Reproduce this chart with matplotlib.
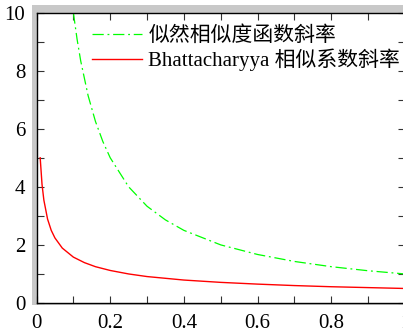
import matplotlib
matplotlib.use("Agg")
import matplotlib.pyplot as plt
from matplotlib.patches import Rectangle
from matplotlib.ticker import MultipleLocator

# Veri
x_yesil = [0.10, 0.11, 0.12, 0.14, 0.16, 0.18, 0.20, 0.25, 0.30, 0.35, 0.40, 0.50, 0.60, 0.70, 0.80, 0.90, 1.00]
y_yesil = [10.0, 9.09, 8.33, 7.14, 6.25, 5.56, 5.00, 4.00, 3.33, 2.86, 2.50, 2.00, 1.67, 1.43, 1.25, 1.11, 1.00]

x_kirmizi = [0.01, 0.015, 0.02, 0.03, 0.04, 0.05, 0.07, 0.10, 0.13, 0.16, 0.20, 0.25, 0.30, 0.40, 0.50, 0.60, 0.70, 0.80, 0.90, 1.00]
y_kirmizi = [5.00, 4.08, 3.54, 2.89, 2.50, 2.24, 1.89, 1.58, 1.39, 1.25, 1.12, 1.00, 0.91, 0.79, 0.71, 0.65, 0.60, 0.56, 0.53, 0.50]

x_etiketler = ["0", "0.2", "0.4", "0.6", "0.8", "1"]

etiket_yesil = "似然相似度函数斜率"
etiket_kirmizi = "Bhattacharyya 相似系数斜率"

FONTLAR = ["Liberation Serif", "Noto Sans CJK SC", "DejaVu Sans"]
plt.rcParams["font.family"] = FONTLAR

fig = plt.figure(figsize=(4.03, 3.34), dpi=100)
W, H = 403.0, 334.0

# Gri golge cerceve
golge = Rectangle((32 / W, (H - 305) / H), (410 - 32) / W, (305 - 5) / H,
                  transform=fig.transFigure, facecolor="#c8c8c8",
                  edgecolor="none", zorder=-5)
fig.add_artist(golge)

ax = fig.add_axes([36.5 / W, (H - 303) / H, (405 - 36.5) / W, (303 - 12.5) / H])
ax.set_zorder(1)
ax.set_facecolor("white")

ax.plot(x_yesil, y_yesil, color="#00ff00", linestyle=(0, (9, 3, 1.5, 3)), linewidth=0.9, label=etiket_yesil)
ax.plot(x_kirmizi, y_kirmizi, color="#ff0000", linestyle="-", linewidth=1.0, label=etiket_kirmizi)

ax.set_xlim(0, 1)
ax.set_ylim(0, 10)
ax.set_xticks([0, 0.2, 0.4, 0.6, 0.8, 1.0])
ax.set_xticklabels(x_etiketler)
ax.xaxis.set_minor_locator(MultipleLocator(0.1))
ax.yaxis.set_major_locator(MultipleLocator(2))
ax.yaxis.set_minor_locator(MultipleLocator(1))
ax.tick_params(which="both", direction="in", top=True, right=True, length=5, width=0.8, color="#333333")
ax.tick_params(axis="both", which="major", labelsize=15, pad=8)
for s in ax.spines.values():
    s.set_linewidth(1.0)

leg = ax.legend(loc="upper left", bbox_to_anchor=(0.117, 0.995), frameon=False, fontsize=15,
                handlelength=2.4, handletextpad=0.3, labelspacing=0.12, borderaxespad=0.2)

plt.savefig("out.png", dpi=100)
plt.close()
